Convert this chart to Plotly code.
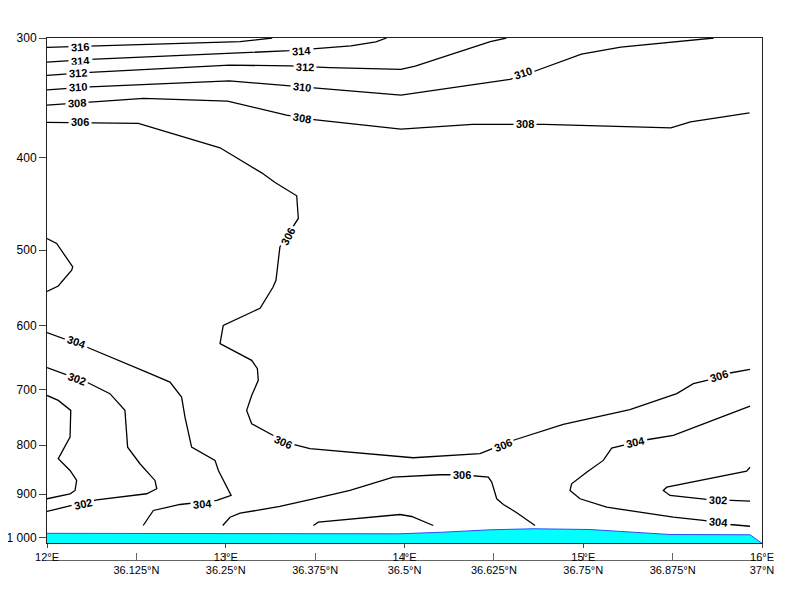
import numpy as np
import plotly.graph_objects as go

# ---- Potential temperature contours (K): paths as (longitude °E, pressure hPa) ----
lon_316 = [12.0, 12.58, 13.08, 13.26]
p_316 = [306.8, 304.7, 302.7, 300.0]

lon_314 = [12.0, 12.24, 13.36, 13.49, 13.70, 13.84, 13.90]
p_314 = [317.9, 315.9, 309.3, 308.0, 305.8, 302.8, 300.0]

lon_312 = [12.0, 12.24, 13.02, 13.36, 13.58, 13.98, 14.06, 14.48, 14.57]
p_312 = [328.3, 325.9, 320.3, 320.8, 322.2, 323.6, 321.0, 302.7, 300.0]

lon_310 = [12.0, 12.24, 13.02, 13.36, 13.49, 13.98, 14.59, 14.72, 14.99, 15.21, 15.73]
p_310 = [340.0, 337.4, 332.6, 336.6, 338.6, 344.2, 331.4, 325.4, 311.8, 306.6, 300.0]

lon_308 = [12.0, 12.24, 12.54, 13.01, 13.34, 13.48, 13.98, 14.38, 14.59, 14.78, 15.49, 15.60, 15.93]
p_308 = [352.6, 349.8, 346.9, 349.2, 361.3, 365.0, 373.6, 369.4, 369.1, 369.4, 372.5, 367.1, 359.2]

lon_306_main = [12.0, 12.511, 12.968, 13.080, 13.201, 13.276, 13.397, 13.406, 13.348, 13.303,
                13.281, 13.264, 13.192, 12.986, 12.968, 13.145, 13.177, 13.182, 13.145, 13.117,
                13.145, 13.266, 13.378, 13.471, 14.049, 14.422, 14.478, 14.618, 14.888, 15.261,
                15.523, 15.616, 15.709, 15.820, 15.933]
p_306_main = [367.6, 368.5, 390.8, 402.5, 415.1, 424.8, 438.7, 463.3, 482.4, 496.2,
              537.6, 546.8, 575.1, 599.3, 626.3, 652.0, 665.2, 684.2, 709.5, 735.5,
              759.5, 781.3, 798.4, 806.6, 824.4, 816.4, 808.6, 789.4, 760.8, 734.3,
              706.5, 689.7, 683.1, 672.2, 666.3]

lon_306_low = [12.983, 13.024, 13.080, 13.303, 13.490, 13.695, 13.937, 14.198, 14.320, 14.376,
               14.469, 14.488, 14.516, 14.553, 14.628, 14.730]
p_306_low = [970.5, 951.3, 942.2, 927.0, 910.0, 891.9, 863.9, 858.9, 858.9, 860.4,
             863.9, 874.3, 910.0, 922.6, 941.2, 970.5]

lon_306_west = [12.0, 12.054, 12.144, 12.138, 12.063, 12.0]
p_306_west = [486.2, 492.1, 520.7, 524.8, 545.1, 552.4]

lon_308_sfc = [13.490, 13.518, 13.975, 14.040, 14.161]
p_308_sfc = [970.5, 962.8, 945.1, 949.7, 970.5]

lon_304_west = [12.0, 12.221, 12.557, 12.688, 12.753, 12.772, 12.809, 12.940, 12.959, 13.024,
                13.030, 12.950, 12.744, 12.595, 12.557, 12.538]
p_304_west = [609.9, 631.4, 670.7, 687.0, 712.4, 747.5, 803.6, 829.7, 850.0, 895.6,
              902.8, 913.7, 922.6, 936.0, 958.8, 970.5]

lon_302_west = [12.0, 12.221, 12.352, 12.436, 12.451, 12.520, 12.604, 12.614, 12.558, 12.278, 12.138, 12.0]
p_302_west = [663.6, 687.0, 706.5, 735.5, 803.6, 836.4, 870.7, 888.3, 899.1, 912.2, 924.8, 938.3]

lon_300_west = [12.0, 12.063, 12.133, 12.129, 12.063, 12.129, 12.166, 12.157, 12.129, 12.0]
p_300_west = [709.5, 718.0, 735.5, 784.5, 826.3, 850.0, 870.7, 891.9, 899.1, 910.0]

lon_304_east = [15.933, 15.504, 15.355, 15.243, 15.159, 15.112, 15.019, 14.935, 14.926, 14.982,
                15.131, 15.504, 15.672, 15.821, 15.933]
p_304_east = [727.9, 781.3, 789.4, 798.4, 805.5, 829.7, 853.5, 877.7, 891.9, 910.0,
              928.6, 951.3, 958.8, 968.2, 972.2]

lon_302_east = [15.933, 15.914, 15.467, 15.448, 15.485, 15.691, 15.933]
p_302_east = [843.4, 851.4, 884.9, 891.9, 902.8, 911.5, 915.3]

# ---- Terrain (surface pressure along the section) ----
lon_sfc = [12.0, 13.975, 14.215, 14.478, 14.719, 15.038, 15.278, 15.485, 15.933, 16.0]
p_sfc = [989.0, 990.1, 986.3, 980.6, 978.2, 979.9, 986.3, 991.7, 992.4, 1013.0]
P_BOTTOM = 1013.0
P_TOP = 300.0

# ---- Contour labels ----
label_text = ["316", "314", "314", "312", "312", "310", "310", "310", "308", "308", "308",
              "306", "306", "306", "306", "306", "306", "304", "302", "302", "304", "304", "302", "304"]
label_lon = [12.185, 12.185, 13.425, 12.173, 13.443, 12.173, 13.425, 14.665, 12.168, 13.427, 14.674,
             12.185, 13.350, 13.320, 14.553, 15.759, 14.320, 12.166, 12.170, 12.203, 12.871, 15.295, 15.756, 15.756]
label_p = [306.4, 317.0, 309.3, 326.7, 321.9, 337.8, 337.8, 326.5, 350.6, 363.3, 369.4,
           367.6, 483.5, 794.0, 799.0, 677.7, 858.9, 623.9, 681.5, 921.1, 921.1, 793.9, 912.2, 962.8]
label_angle = [-3, -3, -3, -3, 2, -3, 6, -18, -3, 10, 0,
               0, -62, 24, -22, -17, 0, 20, 20, -13, -4, -13, 2, 5]

# ---- Axis ticks ----
p_ticks = [300, 400, 500, 600, 700, 800, 900, 1000]
p_tick_text = ["300", "400", "500", "600", "700", "800", "900", "1 000"]
lon_ticks = [12, 13, 14, 15, 16]
lon_tick_text = ["12°E", "13°E", "14°E", "15°E", "16°E"]
lat_ticks = [36.125, 36.25, 36.375, 36.5, 36.625, 36.75, 36.875, 37.0]
lat_tick_text = ["36.125°N", "36.25°N", "36.375°N", "36.5°N", "36.625°N", "36.75°N", "36.875°N", "37°N"]

FONT = "Liberation Sans, Arial, Helvetica, sans-serif"

fig = go.Figure()

# terrain fill
fig.add_trace(go.Scatter(
    x=lon_sfc + [lon_sfc[0]], y=p_sfc + [P_BOTTOM],
    mode="lines", fill="toself", fillcolor="#00FFFF",
    line=dict(width=0, color="#00FFFF"), hoverinfo="skip", showlegend=False))
fig.add_trace(go.Scatter(
    x=lon_sfc, y=p_sfc, mode="lines",
    line=dict(color="#2a4cff", width=1), hoverinfo="skip", showlegend=False))

contours = [
    (lon_316, p_316), (lon_314, p_314), (lon_312, p_312), (lon_310, p_310), (lon_308, p_308),
    (lon_306_main, p_306_main), (lon_306_low, p_306_low), (lon_306_west, p_306_west),
    (lon_308_sfc, p_308_sfc), (lon_304_west, p_304_west), (lon_302_west, p_302_west),
    (lon_300_west, p_300_west), (lon_304_east, p_304_east), (lon_302_east, p_302_east),
]
for lx, py in contours:
    fig.add_trace(go.Scatter(x=lx, y=py, mode="lines",
                             line=dict(color="black", width=1.3),
                             hoverinfo="skip", showlegend=False))

# dummy trace to activate latitude axis
fig.add_trace(go.Scatter(x=[lat_ticks[0], lat_ticks[-1]], y=[p_ticks[1], p_ticks[1]],
                         xaxis="x2", mode="markers", marker=dict(opacity=0),
                         hoverinfo="skip", showlegend=False))

for t, lx, pv, ang in zip(label_text, label_lon, label_p, label_angle):
    fig.add_annotation(x=lx, y=np.log10(pv), xref="x", yref="y", text="<b>" + t + "</b>",
                       showarrow=False, textangle=ang, bgcolor="white", borderpad=2,
                       font=dict(family=FONT, size=11, color="black"))

fig.update_layout(
    width=800, height=600,
    margin=dict(l=39, r=46, t=30, b=48, autoexpand=False),
    plot_bgcolor="white", paper_bgcolor="white",
    showlegend=False,
    font=dict(family=FONT, color="black"),
    xaxis=dict(range=[12, 16], tickvals=lon_ticks, ticktext=lon_tick_text,
               ticks="outside", ticklen=4, tickcolor="#444", showgrid=False, zeroline=False,
               showline=True, linecolor="#222", linewidth=1, mirror=True,
               tickfont=dict(size=11), anchor="y", automargin=False),
    yaxis=dict(type="log", range=[np.log10(P_BOTTOM), np.log10(P_TOP)], domain=[0.032, 1],
               tickvals=p_ticks, ticktext=p_tick_text, ticks="outside", ticklen=7,
               tickcolor="#444", showgrid=False, zeroline=False, showline=True,
               linecolor="#222", linewidth=1, mirror=True, tickfont=dict(size=12),
               automargin=False),
    xaxis2=dict(overlaying="x", anchor="free", position=0, side="bottom",
                range=[36, 37], tickvals=lat_ticks, ticktext=lat_tick_text,
                ticks="inside", ticklen=7, tickcolor="#666", showgrid=False, zeroline=False,
                showline=True, linecolor="#666", linewidth=1, tickfont=dict(size=11),
                automargin=False),
)

fig.write_html("out.html")
